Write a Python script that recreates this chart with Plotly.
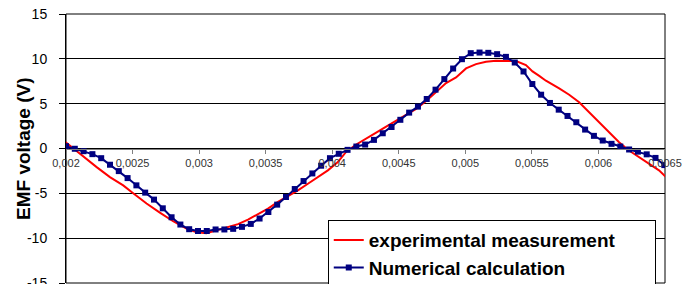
import plotly.graph_objects as go

# Experimental measurement (red)
exp_t = [0.00198, 0.0020675, 0.0021553, 0.0022303, 0.00233, 0.0024298, 0.0025048,
         0.0026053, 0.002705, 0.0028048, 0.0029053, 0.0029803, 0.0030553, 0.0031423,
         0.0032173, 0.0032923, 0.0033673, 0.0034423, 0.0035173, 0.0035923, 0.0036673,
         0.0037423, 0.0038173, 0.0038923, 0.0039673, 0.0040423, 0.0041053, 0.0041803,
         0.0042553, 0.0043303, 0.0044053, 0.0044803, 0.0045553, 0.0046303, 0.0047053,
         0.0047803, 0.0048553, 0.0049303, 0.0050053, 0.0050803, 0.0051553, 0.0052303,
         0.0053053, 0.0053803, 0.0054553, 0.0055048, 0.005555, 0.0056053, 0.005705,
         0.00578, 0.005855, 0.00593, 0.006005, 0.00608, 0.006155, 0.00623, 0.006305,
         0.00638, 0.006455, 0.0065075]
exp_v = [0.9, -0.15, -1.14, -2.08, -3.19, -4.11, -5.0,
         -6.14, -7.15, -8.11, -8.93, -9.35, -9.45, -9.11,
         -8.81, -8.44, -7.93, -7.33, -6.7, -5.96, -5.33,
         -4.67, -3.93, -3.19, -2.44, -1.52, -0.35, 0.45,
         1.07, 1.78, 2.44, 3.11, 3.74, 4.41, 5.3,
         6.3, 7.3, 7.93, 8.93, 9.41, 9.67, 9.78,
         9.8, 9.75, 9.3, 8.6, 8.1, 7.56, 6.7,
         6.0, 5.15, 4.04, 2.93, 1.81, 0.7, -0.22, -0.96,
         -1.7, -2.44, -3.2]

# Numerical calculation (blue, markers)
num_t = [0.002, 0.0020661, 0.0021322, 0.0021983, 0.0022644, 0.0023305, 0.0023966,
         0.0024627, 0.0025288, 0.0025949, 0.002661, 0.0027271, 0.0027932, 0.0028593,
         0.0029254, 0.0029915, 0.0030576, 0.0031237, 0.0031898, 0.0032559, 0.003322,
         0.0033881, 0.0034542, 0.0035203, 0.0035864, 0.0036525, 0.0037186, 0.0037847,
         0.0038508, 0.0039169, 0.003983, 0.0040491, 0.0041152, 0.0041813, 0.0042474,
         0.0043135, 0.0043796, 0.0044457, 0.0045118, 0.0045779, 0.004644, 0.0047101,
         0.0047762, 0.0048423, 0.0049084, 0.0049745, 0.0050406, 0.0051067, 0.0051728,
         0.0052389, 0.005305, 0.0053711, 0.0054372, 0.0055033, 0.0055694, 0.0056355,
         0.0057016, 0.0057677, 0.0058338, 0.0058999, 0.005966, 0.0060321, 0.0060982,
         0.0061643, 0.0062304, 0.0062965, 0.0063626, 0.0064287, 0.0064948]
num_v = [0.26, -0.03, -0.3, -0.63, -1.08, -1.81, -2.52,
         -3.3, -4.11, -4.92, -5.7, -6.67, -7.67, -8.48,
         -9.0, -9.2, -9.2, -9.03, -9.03, -8.96, -8.74,
         -8.41, -7.81, -7.08, -6.26, -5.41, -4.52, -3.63,
         -2.78, -1.92, -1.08, -0.59, -0.15, 0.22, 0.44,
         0.96, 1.7, 2.4, 3.2, 4.0, 4.67, 5.52,
         6.56, 7.74, 8.92, 9.96, 10.63, 10.7, 10.67,
         10.52, 10.22, 9.59, 8.59, 7.19, 6.0, 5.08,
         4.33, 3.63, 2.93, 2.11, 1.41, 0.89, 0.52,
         0.22, -0.11, -0.35, -0.65, -1.05, -1.85]

x_tick_vals = [0.002, 0.0025, 0.003, 0.0035, 0.004, 0.0045, 0.005, 0.0055, 0.006, 0.0065]
x_tick_text = ["0,002", "0,0025", "0,003", "0,0035", "0,004", "0,0045", "0,005", "0,0055", "0,006", "0,0065"]
y_tick_vals = [15, 10, 5, 0, -5, -10, -15]
y_tick_text = ["15", "10", "5", "0", "-5", "-10", "-15"]
y_title = "EMF voltage (V)"

FONT = "Arial, Liberation Sans, sans-serif"

fig = go.Figure()
fig.add_trace(go.Scatter(
    x=exp_t, y=exp_v, mode="lines", name="experimental measurement",
    line=dict(color="#ff0000", width=2)))
fig.add_trace(go.Scatter(
    x=num_t, y=num_v, mode="lines+markers", name="Numerical calculation",
    line=dict(color="#000080", width=2),
    marker=dict(symbol="square", size=6, color="#000080")))

fig.update_layout(
    width=693, height=284,
    margin=dict(l=66, r=28, t=14, b=1, autoexpand=False),
    paper_bgcolor="white", plot_bgcolor="white",
    font=dict(family=FONT, color="black"),
    showlegend=True,
    legend=dict(
        orientation="h",
        x=0.437, y=0.234, xanchor="left", yanchor="top",
        bgcolor="white", bordercolor="black", borderwidth=1,
        font=dict(family=FONT, size=19, color="black", weight="bold"),
        entrywidth=281, entrywidthmode="pixels",
    ),
    xaxis=dict(
        range=[0.002, 0.0065], anchor="free", position=0.5,
        tickvals=x_tick_vals, ticktext=x_tick_text,
        tickfont=dict(size=11, color="#333333"),
        ticks="outside", ticklen=4, tickcolor="#808080",
        showline=True, linecolor="#808080", linewidth=1,
        showgrid=False, zeroline=False, ticklabeloverflow="allow",
    ),
    yaxis=dict(
        range=[-15, 15], tickvals=y_tick_vals, ticktext=y_tick_text,
        tickfont=dict(size=14, color="black"),
        ticks="outside", ticklen=6, tickcolor="black", ticklabelstandoff=9,
        showline=True, linecolor="black", linewidth=1,
        showgrid=True, gridcolor="black", gridwidth=1, zeroline=False,
        ticklabeloverflow="allow",
    ),
    annotations=[dict(
        text=y_title, xref="paper", yref="paper", x=-0.071, y=0.5,
        xanchor="center", yanchor="middle", textangle=-90, showarrow=False,
        font=dict(family=FONT, size=19, color="black", weight="bold"))],
    shapes=[dict(type="rect", xref="paper", yref="paper", x0=0, x1=1, y0=0, y1=1,
                 line=dict(color="black", width=1), layer="below")],
)

fig.write_html("out.html", config={"displayModeBar": False},
               post_script="document.body.style.margin='0px';")
